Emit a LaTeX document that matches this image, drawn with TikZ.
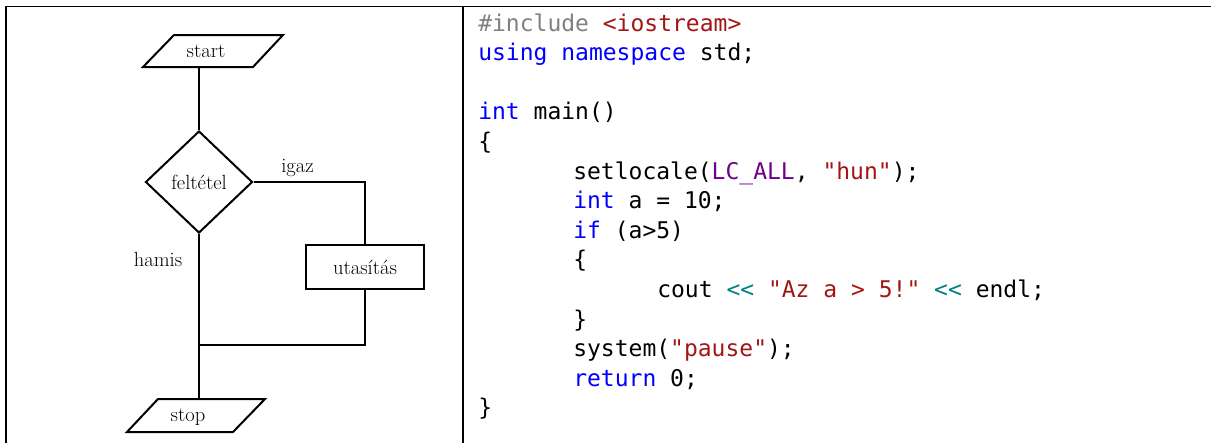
\documentclass[tikz,border=0pt]{standalone}
\usepackage{fontspec}
\setmonofont{DejaVu Sans Mono}
\usetikzlibrary{shapes.geometric}
\definecolor{cgray}{HTML}{808080}
\definecolor{cred}{HTML}{A31515}
\definecolor{cblue}{HTML}{0000FF}
\definecolor{cpurple}{HTML}{6F008A}
\definecolor{cteal}{HTML}{008080}
\begin{document}
\begin{tikzpicture}[x=0.75pt,y=-0.75pt,
  flow/.style={line width=1.5pt},
  lbl/.style={font=\fontsize{15.4}{18}\selectfont, inner sep=0pt, anchor=base},
  shapetext/.style={font=\fontsize{15.4}{18}\selectfont, inner sep=0pt},
  code/.style={font=\ttfamily\fontsize{17.25}{20}\selectfont, inner sep=0pt, anchor=base west},
  border/.style={line width=1.5pt}]
\useasboundingbox (0,0) rectangle (1211,443);
% table borders
\draw[line width=1pt] (5,6.5) -- (1211,6.5);
\draw[border] (6,6) -- (6,443);
\draw[border] (463,6) -- (463,443);

% flowchart
\draw[flow, line join=miter] (174,35) -- (283,35) -- (253,67) -- (143,67) -- cycle;
\node[lbl] (start) at (206,57) {start};
\coordinate (startB) at (199,67);

\node[diamond, draw, flow, shapetext, minimum width=80.25pt, minimum height=76.5pt] (dia) at (199,182) {feltétel};

\node[draw, flow, shapetext, minimum width=88.5pt, minimum height=33pt] (box) at (365,267) {utasítás};

\draw[flow, line join=miter] (158,399) -- (265,399) -- (233,432) -- (127,432) -- cycle;
\node[lbl] (stop) at (188,421) {stop};
\coordinate (stopT) at (199,399);
\coordinate (join) at (199,345);

\draw[flow] (startB) -- (dia.north);
\draw[flow] (dia.east) -| (box.north);
\draw[flow] (box.south) |- (join);
\draw[flow] (dia.south) -- (stopT);

\node[lbl] (igaz) at (297.5,172) {igaz};
\node[lbl] (hamis) at (158,266) {hamis};

% code
\node[code] (l0) at (478,31) {{\color{cgray}\#include} {\color{cred}<iostream>}};
\node[code] (l1) at (478,60.6) {{\color{cblue}using namespace} std;};
\node[code] (l3) at (478,119.8) {{\color{cblue}int} main()};
\node[code] (l4) at (478,149.4) {\{};
\node[code] (l5) at (573,179) {setlocale({\color{cpurple}LC\_ALL}, {\color{cred}"hun"});};
\node[code] (l6) at (573,208.6) {{\color{cblue}int} a = 10;};
\node[code] (l7) at (573,238.2) {{\color{cblue}if} (a>5)};
\node[code] (l8) at (573,267.8) {\{};
\node[code] (l9) at (657,297.4) {cout {\color{cteal}<<} {\color{cred}"Az a > 5!"} {\color{cteal}<<} endl;};
\node[code] (l10) at (573,327) {\}};
\node[code] (l11) at (573,356.6) {system({\color{cred}"pause"});};
\node[code] (l12) at (573,386.2) {{\color{cblue}return} 0;};
\node[code] (l13) at (478,415.8) {\}};
\end{tikzpicture}
\end{document}
